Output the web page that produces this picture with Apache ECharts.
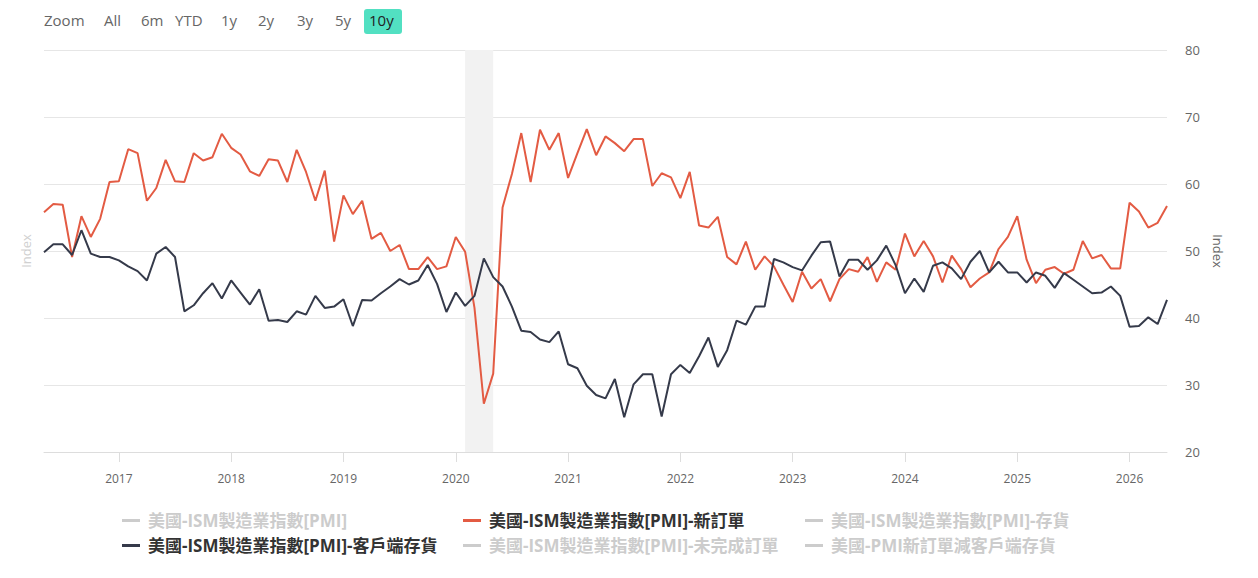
<!DOCTYPE html>
<html>
<head>
<meta charset="utf-8">
<script src="https://cdn.jsdelivr.net/npm/echarts@6/dist/echarts.min.js"></script>
<style>
html,body{margin:0;padding:0;background:#fff;}
#c{width:1258px;height:578px;}
</style>
</head>
<body>
<div id="c"></div>
<script>
// Monthly categories: 2016-05 .. 2026-05
const startYear = 2016, startMonth = 5, monthCount = 121;
const months = [];
for (let k = 0; k < monthCount; k++) {
  const m = startMonth - 1 + k;
  const y = startYear + Math.floor(m / 12);
  const mm = (m % 12) + 1;
  months.push(y + '-' + (mm < 10 ? '0' + mm : '' + mm));
}

const seriesNames = [
  '美國-ISM製造業指數[PMI]',
  '美國-ISM製造業指數[PMI]-新訂單',
  '美國-ISM製造業指數[PMI]-存貨',
  '美國-ISM製造業指數[PMI]-客戶端存貨',
  '美國-ISM製造業指數[PMI]-未完成訂單',
  '美國-PMI新訂單減客戶端存貨'
];

const newOrders = [
  55.8,57.0,56.9,49.1,55.2,52.1,54.8,60.3,60.4,65.2,64.6,57.5,59.4,63.6,60.4,60.3,64.6,63.5,64.0,67.5,
  65.4,64.4,61.9,61.2,63.7,63.5,60.3,65.1,61.8,57.5,62.0,51.4,58.3,55.5,57.5,51.8,52.7,50.0,50.9,47.3,
  47.3,49.1,47.3,47.7,52.1,49.9,41.5,27.2,31.7,56.5,61.5,67.6,60.3,68.1,65.1,67.6,60.9,64.6,68.2,64.3,
  67.1,66.1,64.9,66.7,66.7,59.7,61.6,61.0,57.9,61.8,53.8,53.5,55.1,49.1,48.0,51.4,47.2,49.2,47.7,45.0,
  42.4,46.9,44.4,45.8,42.5,45.8,47.3,46.9,49.1,45.4,48.3,47.2,52.6,49.2,51.5,49.2,45.3,49.3,47.3,44.6,
  45.9,46.8,50.3,52.1,55.2,48.7,45.2,47.2,47.6,46.6,47.2,51.5,48.9,49.4,47.4,47.4,57.2,55.9,53.5,54.2,
  56.7
];

const customerInventories = [
  49.8,51.0,51.0,49.4,53.1,49.6,49.1,49.1,48.6,47.7,47.0,45.6,49.6,50.6,49.1,41.0,41.9,43.7,45.2,42.9,
  45.6,43.8,42.0,44.3,39.6,39.7,39.4,41.0,40.5,43.3,41.5,41.7,42.8,38.8,42.7,42.6,43.7,44.7,45.8,45.0,
  45.6,47.9,45.1,40.9,43.8,41.8,43.3,48.9,46.1,44.7,41.7,38.1,37.9,36.8,36.4,38.0,33.1,32.5,29.9,28.5,
  28.0,30.9,25.2,30.1,31.6,31.6,25.3,31.6,33.0,31.8,34.3,37.1,32.7,35.2,39.6,39.0,41.7,41.7,48.8,48.3,
  47.6,47.1,49.3,51.3,51.4,46.2,48.7,48.7,47.2,48.6,50.8,47.9,43.7,45.9,43.9,47.8,48.3,47.4,45.8,48.4,
  50.0,46.8,48.4,46.8,46.8,45.3,46.8,46.3,44.5,46.7,45.7,44.7,43.7,43.8,44.7,43.3,38.7,38.8,40.1,39.1,
  42.7
];

const yTicks = [20, 30, 40, 50, 60, 70, 80];
const rangeButtons = ['All', '6m', 'YTD', '1y', '2y', '3y', '5y', '10y'];
const recessionBand = ['2020-02', '2020-05'];

const chart = echarts.init(document.getElementById('c'), null, {renderer: 'svg'});
const FONT = '"Open Sans", "Noto Sans CJK TC", sans-serif';
const isJan = (idx, val) => val.slice(5) === '01';

const btnX = [104, 141, 175, 221, 258, 297, 335, 370];
const graphics = [{
  type: 'text', left: 44, top: 12,
  style: {text: 'Zoom', fill: '#666', font: '15px ' + FONT}
}];
rangeButtons.forEach((b, i) => {
  if (b === '10y') {
    graphics.push({type: 'rect', shape: {x: 364, y: 9, width: 38, height: 25, r: 3},
      style: {fill: '#52e0c2'}});
    graphics.push({type: 'text', left: 369, top: 12,
      style: {text: b, fill: '#222', font: '15px ' + FONT}});
  } else {
    graphics.push({type: 'text', left: btnX[i], top: 12,
      style: {text: b, fill: '#666', font: '15px ' + FONT}});
  }
});

const selected = {};
seriesNames.forEach((n, i) => { selected[n] = (i === 1 || i === 3); });

const legendCommon = {
  orient: 'vertical', top: 512, padding: 0, itemGap: 8, itemWidth: 18, itemHeight: 3,
  icon: 'rect', selected: selected, inactiveColor: '#cccccc',
  textStyle: {fontSize: 17, fontWeight: 'bold', color: '#333', fontFamily: FONT, padding: [0, 0, 0, 3]}
};

const colors = ['#7cb5ec', '#e35b43', '#90ed7d', '#353a4a', '#f7a35c', '#8085e9'];

const seriesData = [[], newOrders, [], customerInventories, [], []];

chart.setOption({
  animation: false,
  textStyle: {fontFamily: FONT},
  graphic: graphics,
  legend: [
    Object.assign({}, legendCommon, {left: 122, data: [seriesNames[0], seriesNames[3]]}),
    Object.assign({}, legendCommon, {left: 463, data: [seriesNames[1], seriesNames[4]]}),
    Object.assign({}, legendCommon, {left: 805, data: [seriesNames[2], seriesNames[5]]})
  ],
  grid: {left: 44, right: 91, top: 50, bottom: 126},
  xAxis: {
    type: 'category', data: months, boundaryGap: false,
    axisLine: {lineStyle: {color: '#dddddd'}},
    axisTick: {interval: isJan, length: 10, lineStyle: {color: '#dddddd'}},
    axisLabel: {interval: isJan, formatter: v => v.slice(0, 4), color: '#666', fontSize: 12, margin: 20},
    splitLine: {show: false}
  },
  yAxis: [{
    type: 'value', position: 'left', min: 20, max: 80, interval: 10,
    name: 'Index', nameLocation: 'middle', nameGap: 12, nameRotate: 90,
    nameTextStyle: {color: '#d0d0d0', fontSize: 13},
    axisLabel: {show: false}, axisLine: {show: false}, axisTick: {show: false},
    splitLine: {show: false}
  }, {
    type: 'value', position: 'right', min: yTicks[0], max: yTicks[yTicks.length - 1], interval: 10,
    name: 'Index', nameLocation: 'middle', nameGap: 44, nameRotate: -90,
    nameTextStyle: {color: '#666', fontSize: 13},
    axisLabel: {color: '#666', fontSize: 13, margin: 18},
    axisLine: {show: false}, axisTick: {show: false},
    splitLine: {lineStyle: {color: '#e6e6e6'}}
  }],
  series: seriesNames.map((n, i) => ({
    name: n, type: 'line', data: seriesData[i],
    yAxisIndex: (i === 1 || i === 3) ? 1 : 0,
    color: colors[i], symbol: 'none', showSymbol: false,
    lineStyle: {width: 2, color: colors[i]},
    z: i === 3 ? 4 : 3,
    markArea: i === 1 ? {
      silent: true,
      itemStyle: {color: '#f2f2f2'},
      data: [[{xAxis: recessionBand[0]}, {xAxis: recessionBand[1]}]]
    } : undefined
  }))
});
</script>
</body>
</html>
